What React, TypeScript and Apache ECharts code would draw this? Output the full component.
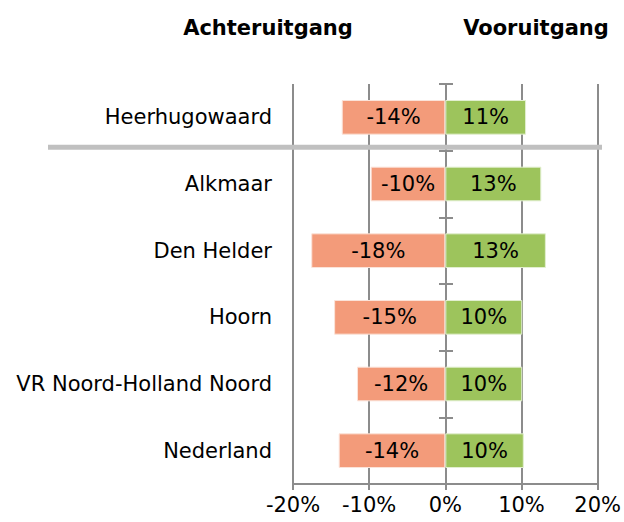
import React, { useEffect, useRef } from "react";
import * as echarts from "echarts";

const categories = ["Heerhugowaard", "Alkmaar", "Den Helder", "Hoorn", "VR Noord-Holland Noord", "Nederland"];
const achteruitgang = [-13.6, -9.8, -17.6, -14.6, -11.6, -14.0];
const vooruitgang = [10.6, 12.6, 13.2, 10.1, 10.1, 10.3];
const xTicks = [-20, -10, 0, 10, 20];
const headers = ["Achteruitgang", "Vooruitgang"];

const FONT = "DejaVu Sans";
const FS = 21;
const GRID_TOP = 84;
const GRID_BOTTOM = 38;
const GRID_LEFT = 293;
const GRID_RIGHT = 25;
const H = 522;
const W = 624;

export default function App() {
  const ref = useRef<HTMLDivElement>(null);
  useEffect(() => {
    if (!ref.current) return;
    const chart = echarts.init(ref.current, null, { renderer: "svg" });
    const band = (H - GRID_TOP - GRID_BOTTOM) / categories.length;
    const sepY = GRID_TOP + band - 3.5;
    const plotW = W - GRID_LEFT - GRID_RIGHT;
    const min = xTicks[0];
    const max = xTicks[xTicks.length - 1];
    const zeroOffset = -plotW * ((0 - min) / (max - min));
    const gray = "#8c8c8c";
    const catAxisBase = {
      type: "category" as const,
      data: categories,
      inverse: true,
      position: "left" as const,
    };
    chart.setOption({
      animation: false,
      textStyle: { fontFamily: FONT },
      grid: { left: GRID_LEFT, right: GRID_RIGHT, top: GRID_TOP, bottom: GRID_BOTTOM, containLabel: false },
      xAxis: {
        type: "value",
        min,
        max,
        interval: 10,
        axisLine: { show: true, onZero: false, lineStyle: { color: gray, width: 2 } },
        axisTick: { show: true, length: 6, lineStyle: { color: gray, width: 2 } },
        splitLine: { show: true, lineStyle: { color: gray, width: 2 } },
        axisLabel: { formatter: (v: number) => v + "%", fontSize: FS, color: "#000", fontFamily: FONT, margin: 10 },
      },
      yAxis: [
        {
          ...catAxisBase,
          axisLine: { show: false, onZero: false },
          axisTick: { show: false },
          axisLabel: { fontSize: FS, color: "#000", fontFamily: FONT, margin: 21 },
        },
        {
          ...catAxisBase,
          offset: zeroOffset,
          axisLine: { show: true, onZero: false, lineStyle: { color: gray, width: 2 } },
          axisTick: { show: true, length: 7, lineStyle: { color: gray, width: 2 } },
          axisLabel: { show: false },
        },
        {
          ...catAxisBase,
          offset: zeroOffset,
          axisLine: { show: false, onZero: false },
          axisTick: { show: true, inside: true, length: 7, lineStyle: { color: gray, width: 2 } },
          axisLabel: { show: false },
        },
      ],
      series: [
        {
          name: headers[0],
          type: "bar",
          stack: "total",
          yAxisIndex: 0,
          barWidth: "52%",
          data: achteruitgang,
          itemStyle: { color: "#F39B7A", borderColor: "#fbe3d9", borderWidth: 1 },
          label: {
            show: true,
            position: "inside",
            color: "#000",
            fontSize: FS,
            fontFamily: FONT,
            formatter: (p: any) => Math.round(p.value) + "%",
          },
        },
        {
          name: headers[1],
          type: "bar",
          stack: "total",
          yAxisIndex: 0,
          barWidth: "52%",
          data: vooruitgang,
          itemStyle: { color: "#9DC45C", borderColor: "#e2efd0", borderWidth: 1 },
          label: {
            show: true,
            position: "inside",
            color: "#000",
            fontSize: FS,
            fontFamily: FONT,
            formatter: (p: any) => Math.round(p.value) + "%",
          },
        },
      ],
      graphic: [
        {
          type: "line",
          shape: { x1: 48, y1: sepY, x2: 602, y2: sepY },
          style: { stroke: "#c0c0c0", lineWidth: 5 },
          z: 10,
        },
        {
          type: "text",
          x: 268,
          y: 28,
          style: { text: headers[0], font: `bold ${FS}px "${FONT}"`, fill: "#000", align: "center", verticalAlign: "middle" },
        },
        {
          type: "text",
          x: 536,
          y: 28,
          style: { text: headers[1], font: `bold ${FS}px "${FONT}"`, fill: "#000", align: "center", verticalAlign: "middle" },
        },
      ],
    });
    return () => chart.dispose();
  }, []);
  return <div ref={ref} style={{ width: W, height: H, position: "absolute", left: 0, top: 0 }} />;
}
